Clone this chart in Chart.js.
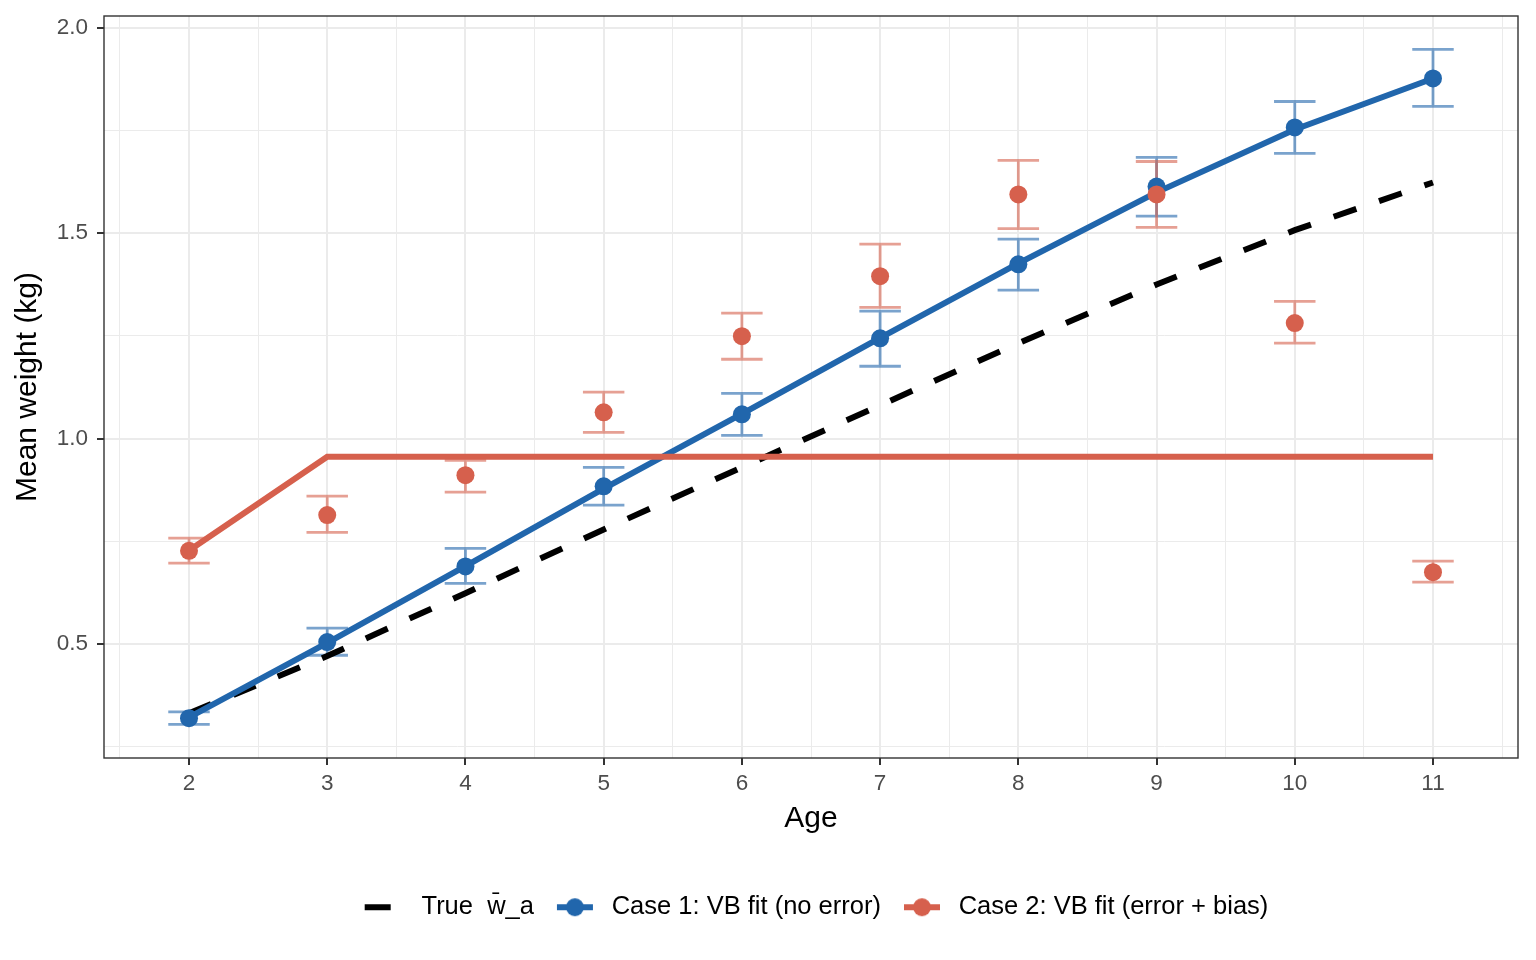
<!DOCTYPE html>
<html>
<head>
<meta charset="utf-8">
<script src="https://cdn.jsdelivr.net/npm/chart.js@4.4.1/dist/chart.umd.min.js"></script>
<style>
  html, body { margin: 0; padding: 0; background: #fff; }
  #chart { display: block; }
</style>
</head>
<body>
<canvas id="chart" width="1536" height="960"></canvas>
<script>
  "use strict";

  // Data
  var ages = [2, 3, 4, 5, 6, 7, 8, 9, 10, 11];
  var trueW = [0.332, 0.471, 0.624, 0.779, 0.930, 1.081, 1.232, 1.375, 1.507, 1.623];
  var case1Fit = [0.322, 0.503, 0.690, 0.878, 1.060, 1.245, 1.426, 1.599, 1.752, 1.876];
  var case2Fit = [0.728, 0.956, 0.956, 0.956, 0.956, 0.956, 0.956, 0.956, 0.956, 0.956];
  var case1Mean = [0.320, 0.505, 0.689, 0.884, 1.059, 1.244, 1.424, 1.613, 1.757, 1.876];
  var case1Lo = [0.305, 0.473, 0.648, 0.838, 1.008, 1.176, 1.361, 1.541, 1.694, 1.808];
  var case1Hi = [0.335, 0.539, 0.733, 0.930, 1.110, 1.310, 1.485, 1.684, 1.820, 1.947];
  var case2Mean = [0.727, 0.814, 0.911, 1.064, 1.249, 1.395, 1.594, 1.594, 1.281, 0.675];
  var case2Lo = [0.697, 0.772, 0.870, 1.015, 1.193, 1.319, 1.511, 1.514, 1.232, 0.651];
  var case2Hi = [0.758, 0.860, 0.947, 1.113, 1.305, 1.473, 1.677, 1.674, 1.334, 0.702];

  var xTickLabels = [2, 3, 4, 5, 6, 7, 8, 9, 10, 11];
  var yTickLabels = [0.5, 1.0, 1.5, 2.0];
  var legendLabels = [" True  w\u0304_a", "Case 1: VB fit (no error)", "Case 2: VB fit (error + bias)"];

  var BLUE = "#2166AC";
  var RED = "#D6604D";
  var FONT = "'Liberation Sans', Arial, Helvetica, sans-serif";

  function pts(ys) {
    return ages.map(function (a, i) { return { x: a, y: ys[i] }; });
  }

  function isMajor(v, list) {
    return list.some(function (t) { return Math.abs(t - v) < 1e-6; });
  }

  // legend keys
  function makeKey(color, dashed) {
    var c = document.createElement("canvas");
    c.width = 48; c.height = 22;
    var g = c.getContext("2d");
    g.strokeStyle = color;
    g.lineCap = "butt";
    g.lineWidth = 6;
    g.beginPath();
    if (dashed) {
      g.moveTo(11, 11); g.lineTo(37, 11);
    } else {
      g.moveTo(6, 11); g.lineTo(42, 11);
    }
    g.stroke();
    if (!dashed) {
      g.fillStyle = color;
      g.beginPath(); g.arc(24, 11, 9, 0, Math.PI * 2); g.fill();
    }
    return c;
  }
  var keys = [makeKey("#000", true), makeKey(BLUE, false), makeKey(RED, false)];

  // Error bars under the lines and points, plus the panel border
  var errorBars = {
    id: "errorBars",
    beforeDatasetsDraw: function (chart) {
      var ctx = chart.ctx, xs = chart.scales.x, ys = chart.scales.y;
      var sets = [[case1Lo, case1Hi, "rgba(33,102,172,0.6)"], [case2Lo, case2Hi, "rgba(214,96,77,0.6)"]];
      ctx.save();
      ctx.lineWidth = 2.8;
      sets.forEach(function (s) {
        ctx.strokeStyle = s[2];
        ages.forEach(function (a, i) {
          var x = xs.getPixelForValue(a);
          var x0 = xs.getPixelForValue(a - 0.15), x1 = xs.getPixelForValue(a + 0.15);
          var yl = ys.getPixelForValue(s[0][i]), yh = ys.getPixelForValue(s[1][i]);
          ctx.beginPath();
          ctx.moveTo(x, yl); ctx.lineTo(x, yh);
          ctx.moveTo(x0, yl); ctx.lineTo(x1, yl);
          ctx.moveTo(x0, yh); ctx.lineTo(x1, yh);
          ctx.stroke();
        });
      });
      ctx.restore();
    },
    afterDraw: function (chart) {
      var a = chart.chartArea, ctx = chart.ctx;
      ctx.save();
      ctx.strokeStyle = "#333333";
      ctx.lineWidth = 1.4;
      ctx.strokeRect(a.left, a.top, a.right - a.left, a.bottom - a.top);
      ctx.restore();
    }
  };

  var ctx = document.getElementById("chart").getContext("2d");
  new Chart(ctx, {
    type: "line",
    data: {
      datasets: [
        { label: legendLabels[0], data: pts(trueW), borderColor: "#000", borderWidth: 6, borderDash: [24, 24], pointRadius: 0, fill: false, order: 5 },
        { label: legendLabels[1], data: pts(case1Fit), borderColor: BLUE, borderWidth: 6, pointRadius: 0, fill: false, order: 4 },
        { label: legendLabels[2], data: pts(case2Fit), borderColor: RED, borderWidth: 6, pointRadius: 0, fill: false, order: 3 },
        { label: "c1", data: pts(case1Mean), showLine: false, pointRadius: 9, pointBackgroundColor: BLUE, pointBorderWidth: 0, borderColor: BLUE, order: 2 },
        { label: "c2", data: pts(case2Mean), showLine: false, pointRadius: 9, pointBackgroundColor: RED, pointBorderWidth: 0, borderColor: RED, order: 1 }
      ]
    },
    options: {
      responsive: false,
      animation: false,
      layout: { padding: { left: 0, right: 18, top: 16, bottom: 30 } },
      plugins: {
        tooltip: { enabled: false },
        legend: {
          position: "bottom",
          fullSize: false,
          labels: {
            usePointStyle: true,
            pointStyleWidth: 48,
            padding: 17,
            color: "#000",
            font: { family: FONT, size: 25.5 },
            generateLabels: function () {
              return legendLabels.map(function (t, i) {
                return { text: t, pointStyle: keys[i], fillStyle: "#000", strokeStyle: "#000", lineWidth: 0, hidden: false, datasetIndex: i, fontColor: "#000" };
              });
            }
          }
        }
      },
      scales: {
        x: {
          type: "linear",
          min: 1.385,
          max: 11.615,
          afterFit: function (s) { s.height = 119.5; s.paddingLeft = 0; s.paddingRight = 0; },
          ticks: {
            stepSize: 0.5,
            includeBounds: false,
            autoSkip: false,
            maxRotation: 0,
            padding: 5,
            color: "#4D4D4D",
            font: { family: FONT, size: 22.5 },
            callback: function (v) { return isMajor(v, xTickLabels) ? String(v) : ""; }
          },
          grid: {
            color: "#EBEBEB",
            lineWidth: function (c) { return c.tick && isMajor(c.tick.value, xTickLabels) ? 2 : 1; },
            tickColor: function (c) { return c.tick && isMajor(c.tick.value, xTickLabels) ? "#333333" : "rgba(0,0,0,0)"; },
            tickLength: 7,
            tickWidth: 2
          },
          border: { display: false },
          title: { display: true, text: "Age", color: "#000", font: { family: FONT, size: 30 }, padding: { top: 0, bottom: 40.5 } }
        },
        y: {
          type: "linear",
          min: 0.223,
          max: 2.028,
          afterFit: function (s) { s.width = 104; s.paddingTop = 0; s.paddingBottom = 0; },
          ticks: {
            stepSize: 0.25,
            includeBounds: false,
            padding: 9,
            color: "#4D4D4D",
            font: { family: FONT, size: 22.5 },
            callback: function (v) { return isMajor(v, yTickLabels) ? v.toFixed(1) : ""; }
          },
          grid: {
            color: "#EBEBEB",
            lineWidth: function (c) { return c.tick && isMajor(c.tick.value, yTickLabels) ? 2 : 1; },
            tickColor: function (c) { return c.tick && isMajor(c.tick.value, yTickLabels) ? "#333333" : "rgba(0,0,0,0)"; },
            tickLength: 7,
            tickWidth: 2
          },
          border: { display: false },
          title: { display: true, text: "Mean weight (kg)", color: "#000", font: { family: FONT, size: 30 }, padding: { top: 10, bottom: 0 } }
        }
      }
    },
    plugins: [errorBars]
  });
</script>
</body>
</html>
